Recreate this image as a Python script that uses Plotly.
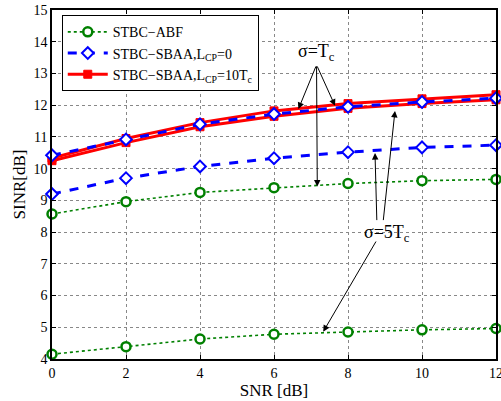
import plotly.graph_objects as go

snr = [0, 2, 4, 6, 8, 10, 12]
abf_tc = [8.57, 8.96, 9.25, 9.40, 9.53, 9.62, 9.66]
abf_5tc = [4.15, 4.39, 4.63, 4.78, 4.85, 4.92, 4.96]
sbaa0_tc = [10.42, 10.92, 11.40, 11.72, 11.95, 12.10, 12.22]
sbaa0_5tc = [9.20, 9.70, 10.07, 10.33, 10.52, 10.67, 10.74]
sbaa10_tc = [10.33, 10.95, 11.45, 11.82, 12.05, 12.20, 12.33]
sbaa10_5tc = [10.25, 10.82, 11.32, 11.65, 11.90, 12.05, 12.17]

x_ticks = [0, 2, 4, 6, 8, 10, 12]
y_ticks = list(range(4, 16))

FONT = "Liberation Serif"
GREEN = "#008000"
BLUE = "#0000ff"
RED = "#ff0000"

fig = go.Figure()

def add(y, name, color, dash, width, symbol, mfill, msize, mlw, show):
    fig.add_trace(go.Scatter(
        x=snr, y=y, mode="lines+markers", name=name, showlegend=show,
        line=dict(color=color, dash=dash, width=width),
        marker=dict(symbol=symbol, size=msize, color=mfill,
                    line=dict(color=color, width=mlw)),
        cliponaxis=False,
    ))

add(abf_tc, "STBC−ABF", GREEN, "dot", 1.6, "circle", "white", 9, 2.5, True)
add(abf_5tc, "STBC−ABF", GREEN, "dot", 1.6, "circle", "white", 9, 2.5, False)
add(sbaa0_5tc, "STBC−SBAA,L<sub>CP</sub>=0", BLUE, "dash", 3, "diamond", "white", 9, 2, True)
add(sbaa10_tc, "STBC−SBAA,L<sub>CP</sub>=10T<sub>c</sub>", RED, "solid", 3, "square", RED, 8, 1, True)
add(sbaa10_5tc, "x", RED, "solid", 3, "square", RED, 8, 1, False)
add(sbaa0_tc, "x", BLUE, "dash", 3, "diamond", "white", 9, 2, False)

arrows = [
    # sigma = Tc
    (6.66, 11.88, 7.15, 13.27),
    (7.65, 11.98, 7.15, 13.27),
    (7.17, 9.44, 7.15, 13.27),
    # sigma = 5Tc
    (8.73, 10.49, 8.78, 8.33),
    (9.27, 11.82, 8.95, 8.33),
    (7.33, 4.86, 8.78, 7.75),
]
for hx, hy, tx, ty in arrows:
    fig.add_annotation(x=hx, y=hy, ax=tx, ay=ty, xref="x", yref="y",
                       axref="x", ayref="y", text="", showarrow=True,
                       arrowhead=2, arrowsize=1.3, arrowwidth=1,
                       arrowcolor="black")

fig.add_annotation(x=7.15, y=13.65, xref="x", yref="y", text="σ=T<sub>c</sub>",
                   showarrow=False, font=dict(family=FONT, size=18, color="black"))
fig.add_annotation(x=9.05, y=7.95, xref="x", yref="y", text="σ=5T<sub>c</sub>",
                   showarrow=False, font=dict(family=FONT, size=18, color="black"))

axis_common = dict(
    showgrid=True, gridcolor="#888888", griddash="dot", gridwidth=1,
    showline=True, linecolor="black", linewidth=1.5, mirror="ticks",
    ticks="inside", ticklen=4, tickcolor="black", zeroline=False,
    tickfont=dict(family=FONT, size=14, color="black"),
    automargin=False, ticklabeloverflow="allow",
)

fig.update_xaxes(range=[0, 12], tickvals=x_ticks,
                 title=dict(text="SNR [dB]", font=dict(family=FONT, size=17, color="black"), standoff=0),
                 **axis_common)
fig.update_yaxes(range=[4, 15], tickvals=y_ticks,
                 title=dict(text="SINR[dB]", font=dict(family=FONT, size=17, color="black"), standoff=4),
                 **axis_common)

fig.update_layout(
    width=501, height=401,
    margin=dict(l=52, r=5, t=10, b=42),
    plot_bgcolor="white", paper_bgcolor="white",
    font=dict(family=FONT, color="black"),
    legend=dict(x=0.022, y=0.985, xanchor="left", yanchor="top",
                bgcolor="white", bordercolor="black", borderwidth=1,
                font=dict(family=FONT, size=14, color="black"),
                tracegroupgap=0, itemwidth=40),
)

# remove the browser's default 8px body margin so the figure fills the window
fig.write_html("out.html", config={"displayModeBar": False},
               post_script="document.body.style.margin='0px';")
